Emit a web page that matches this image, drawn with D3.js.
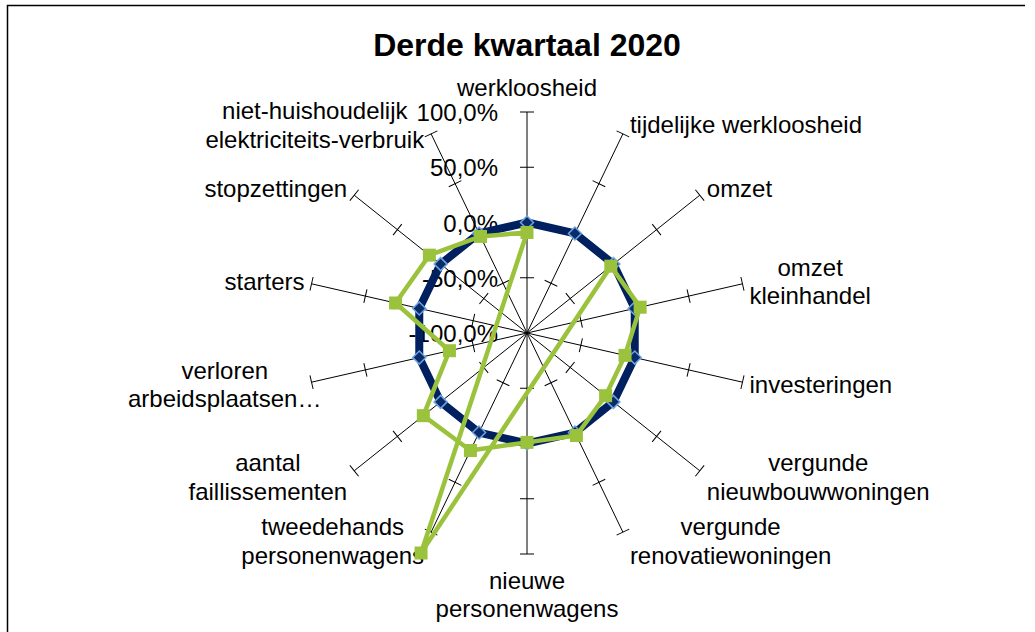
<!doctype html>
<html lang="nl">
<head>
	<meta charset="utf-8">
	<title>Derde kwartaal 2020</title>
	<script src="https://cdnjs.cloudflare.com/ajax/libs/d3/7.8.5/d3.min.js"></script>
	<style>
		body { margin: 0; background: #fff; }
		text { font-family: "Liberation Sans", Arial, sans-serif; fill: #000; }
	</style>
</head>
<body>
<div id="viz"></div>
<script>

// DATA
var categories = [
	["werkloosheid"],
	["tijdelijke werkloosheid"],
	["omzet"],
	["omzet", "kleinhandel"],
	["investeringen"],
	["vergunde", "nieuwbouwwoningen"],
	["vergunde", "renovatiewoningen"],
	["nieuwe", "personenwagens"],
	["tweedehands", "personenwagens"],
	["aantal", "faillissementen"],
	["verloren", "arbeidsplaatsen…"],
	["starters"],
	["stopzettingen"],
	["niet-huishoudelijk", "elektriciteits-verbruik"]
];
// reference series (navy) and third quarter 2020 (green)
var referenceValues = [0, 0, 0, 0, 0, 0, 0, 0, 0, 0, 0, 0, 0, 0];
var q3Values = [-0.09, -3.21, -0.03, 0.05, -0.09, -0.09, 0.03, -0.01, 0.18, 0.20, -0.28, 0.22, 0.13, -0.03];
var tickValues = [-1, -0.5, 0, 0.5, 1];

var w = 1035, h = 632;
var cx = 527, cy = 333, R = 221;
var n = categories.length;

var nl = d3.formatLocale({decimal: ",", thousands: ".", grouping: [3], currency: ["€", ""], minus: "-"});
var pct = nl.format(".1%");

// not clamped: values under -100% go through the centre to the other side, like Excel does
var rScale = d3.scaleLinear().domain([-1, 1]).range([0, R]);
var angle = function(i) { return i * 2 * Math.PI / n; };

var svg = d3.select("#viz").append("svg")
	.attr("width", w)
	.attr("height", h);

svg.append("rect").attr("width", w).attr("height", h).attr("fill", "#fff");

// chart frame (only top and left are visible)
svg.append("path")
	.attr("d", "M7.5,632V5.5H1025")
	.attr("fill", "none")
	.attr("stroke", "#000")
	.attr("stroke-width", 1.5);

svg.append("text")
	.attr("x", 527)
	.attr("y", 56)
	.attr("text-anchor", "middle")
	.style("font-size", "32px")
	.style("font-weight", "bold")
	.text("Derde kwartaal 2020");

var g = svg.append("g").attr("transform", "translate(" + cx + "," + cy + ")");

// spokes
g.selectAll("line.spoke")
	.data(categories)
	.enter()
	.append("line")
	.attr("class", "spoke")
	.attr("x1", 0).attr("y1", 0)
	.attr("x2", (d, i) => R * Math.sin(angle(i)))
	.attr("y2", (d, i) => -R * Math.cos(angle(i)))
	.attr("stroke", "#000")
	.attr("stroke-width", 1);

// small cross ticks on every spoke
var tickData = [];
categories.forEach(function(c, i) {
	tickValues.slice(1).forEach(function(v) { tickData.push({i: i, v: v}); });
});
g.selectAll("line.tick")
	.data(tickData)
	.enter()
	.append("line")
	.attr("class", "tick")
	.attr("transform", d => "rotate(" + (angle(d.i) * 180 / Math.PI) + ")")
	.attr("x1", -7).attr("x2", 7)
	.attr("y1", d => -rScale(d.v)).attr("y2", d => -rScale(d.v))
	.attr("stroke", "#000")
	.attr("stroke-width", 1);

// value axis labels along the first spoke
g.selectAll("text.tickLabel")
	.data(tickValues)
	.enter()
	.append("text")
	.attr("class", "tickLabel")
	.attr("x", -29)
	.attr("y", d => -rScale(d))
	.attr("dy", "0.38em")
	.attr("text-anchor", "end")
	.style("font-size", "24px")
	.text(d => pct(d));

// category labels, placed next to the end of each spoke
var lineH = 28.5;
categories.forEach(function(lines, i) {
	var s = Math.sin(angle(i)), c = Math.cos(angle(i));
	var ex = R * s, ey = -R * c;
	var t = g.append("text")
		.attr("text-anchor", "middle")
		.style("font-size", "24px");
	var spans = t.selectAll("tspan")
		.data(lines)
		.enter()
		.append("tspan")
		.text(d => d);
	var bw = d3.max(spans.nodes(), nd => nd.getComputedTextLength());
	var bh = lines.length * lineH;
	var bx, by;
	if (Math.abs(s) < 0.1) {
		bx = ex;
		by = c > 0 ? ey - 10 - bh / 2 : ey + 12 + bh / 2;
	} else {
		bx = s > 0 ? ex + 7 + bw / 2 : ex - 7 - bw / 2;
		// Excel lets a too wide block run past the spoke end on the left side
		if (s < 0 && cx + bx - bw / 2 < 125) bx = 128 - cx + bw / 2;
		by = ey - c * 10;
	}
	spans.attr("x", bx)
		.attr("y", (d, k) => by - bh / 2 + lineH * (k + 0.5))
		.attr("dy", "0.35em");
});

var radial = d3.lineRadial()
	.angle((d, i) => angle(i))
	.radius(d => rScale(d))
	.curve(d3.curveLinearClosed);

// navy series
g.append("path")
	.attr("d", radial(referenceValues))
	.attr("fill", "none")
	.attr("stroke", "#002060")
	.attr("stroke-width", 8)
	.attr("stroke-linejoin", "round");

g.selectAll("path.diamond")
	.data(referenceValues)
	.enter()
	.append("path")
	.attr("class", "diamond")
	.attr("d", "M0,-6.5L6.5,0L0,6.5L-6.5,0Z")
	.attr("transform", (d, i) => "translate(" + [rScale(d) * Math.sin(angle(i)), -rScale(d) * Math.cos(angle(i))] + ")")
	.attr("fill", "#0a2a6a")
	.attr("stroke", "#6aa6e0")
	.attr("stroke-width", 1.5);

// green series
g.append("path")
	.attr("d", radial(q3Values))
	.attr("fill", "none")
	.attr("stroke", "#9bc23c")
	.attr("stroke-width", 4.5)
	.attr("stroke-linejoin", "round");

g.selectAll("rect.square")
	.data(q3Values)
	.enter()
	.append("rect")
	.attr("class", "square")
	.attr("x", -6.5).attr("y", -6.5)
	.attr("width", 13).attr("height", 13)
	.attr("transform", (d, i) => "translate(" + [rScale(d) * Math.sin(angle(i)), -rScale(d) * Math.cos(angle(i))] + ")")
	.attr("fill", "#9bc23c");

</script>
</body>
</html>
